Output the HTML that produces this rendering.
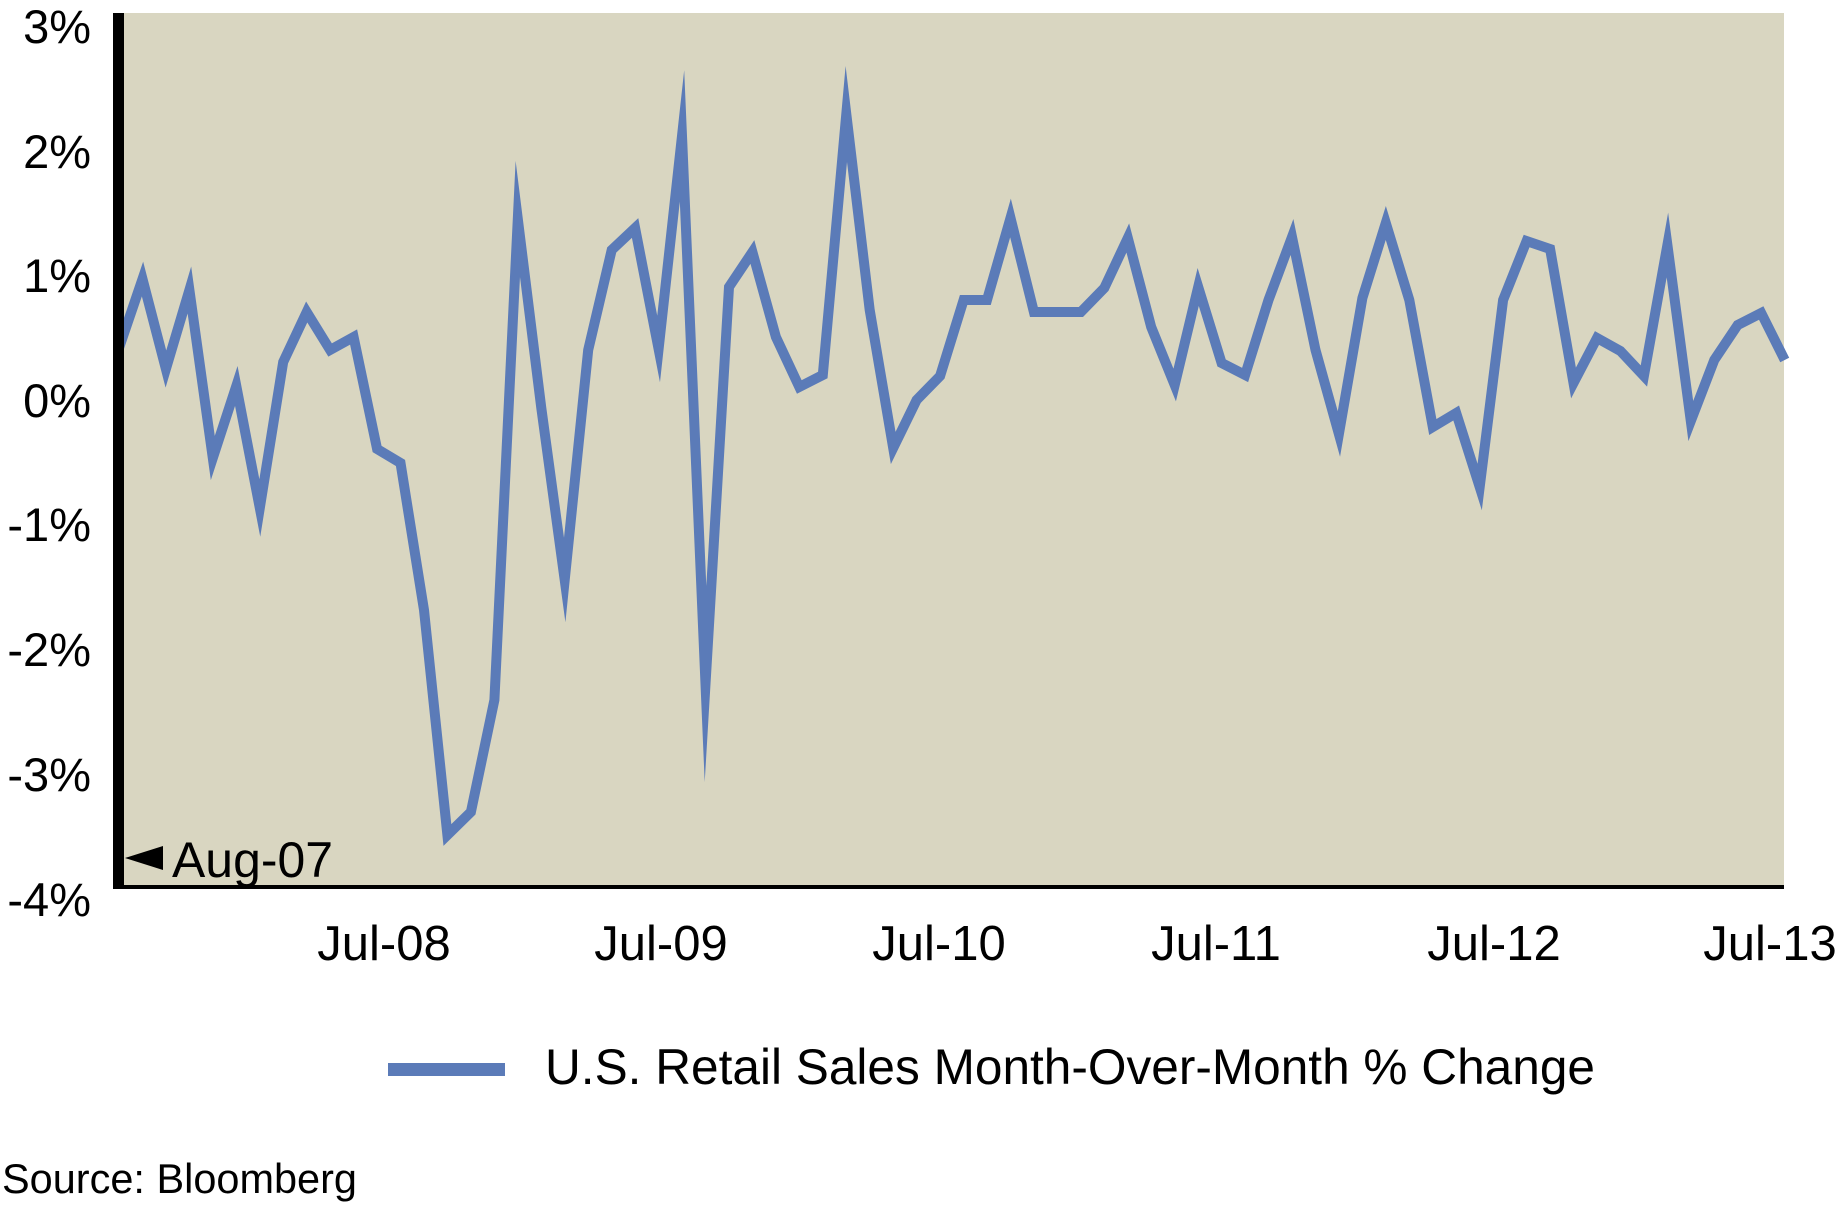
<!DOCTYPE html>
<html>
<head>
<meta charset="utf-8">
<style>
  html, body { margin:0; padding:0; background:#ffffff; }
  body { width:1840px; height:1213px; overflow:hidden; }
  svg { display:block; }
  text { font-family: "Liberation Sans", Arial, sans-serif; fill:#000; }
</style>
</head>
<body>
<svg width="1840" height="1213" viewBox="0 0 1840 1213" xmlns="http://www.w3.org/2000/svg">
  <!-- plot background -->
  <rect x="113" y="13" width="1671" height="874" fill="#d9d6c1"/>

  <!-- data line -->
  <polyline fill="none" stroke="#5b7bb8" stroke-width="10" stroke-linejoin="miter" stroke-miterlimit="60" stroke-linecap="butt"
    points="119.0,348 142.5,279 165.9,369 189.4,290 212.8,458 236.3,386 259.8,508 283.2,362 306.7,312 330.1,350 353.6,337 377.1,449 400.5,463 424.0,610 447.4,835 470.9,812 494.4,700 517.8,219 541.3,408 564.7,580 588.2,350 611.7,250 635.1,228 658.6,349 682.0,136 705.5,684 729.0,287 752.4,252 775.9,337 799.3,387 822.8,375 846.3,114 869.7,310 893.2,448 916.6,400 940.1,376 963.6,300 987.0,300 1010.5,218 1033.9,312 1057.4,312 1080.9,312 1104.3,288 1127.8,238 1151.2,327 1174.7,385 1198.2,287 1221.6,363 1245.1,375 1268.5,300 1292.0,237 1315.5,350 1338.9,434 1362.4,298 1385.8,223 1409.3,300 1432.8,427 1456.2,413 1479.7,487 1503.1,300 1526.6,241 1550.1,249 1573.5,383 1597.0,338 1620.4,351 1643.9,376 1667.4,245 1690.8,421 1714.3,360 1737.7,325 1761.2,313 1784.7,360"/>

  <!-- axes -->
  <rect x="113" y="13" width="11" height="876" fill="#000"/>
  <rect x="113" y="885" width="1671" height="4" fill="#000"/>

  <!-- Aug-07 marker -->
  <polygon points="125,858 163,846 163,870" fill="#000"/>
  <text x="172" y="877" font-size="50" textLength="161" lengthAdjust="spacingAndGlyphs">Aug-07</text>

  <!-- y tick labels -->
  <g font-size="47" text-anchor="end">
    <text x="91" y="43">3%</text>
    <text x="91" y="168">2%</text>
    <text x="91" y="292">1%</text>
    <text x="91" y="417">0%</text>
    <text x="91" y="541">-1%</text>
    <text x="91" y="666">-2%</text>
    <text x="91" y="791">-3%</text>
    <text x="91" y="916">-4%</text>
  </g>

  <!-- x tick labels -->
  <g font-size="49" text-anchor="middle">
    <text x="384" y="960">Jul-08</text>
    <text x="661" y="960">Jul-09</text>
    <text x="939" y="960">Jul-10</text>
    <text x="1216" y="960">Jul-11</text>
    <text x="1494" y="960">Jul-12</text>
    <text x="1770" y="960">Jul-13</text>
  </g>

  <!-- legend -->
  <rect x="388" y="1063" width="117" height="13" fill="#5b7bb8"/>
  <text x="545" y="1084" font-size="50" textLength="1050" lengthAdjust="spacingAndGlyphs">U.S. Retail Sales Month-Over-Month % Change</text>

  <!-- source -->
  <text x="2" y="1193" font-size="42" textLength="355" lengthAdjust="spacingAndGlyphs">Source: Bloomberg</text>
</svg>
</body>
</html>
